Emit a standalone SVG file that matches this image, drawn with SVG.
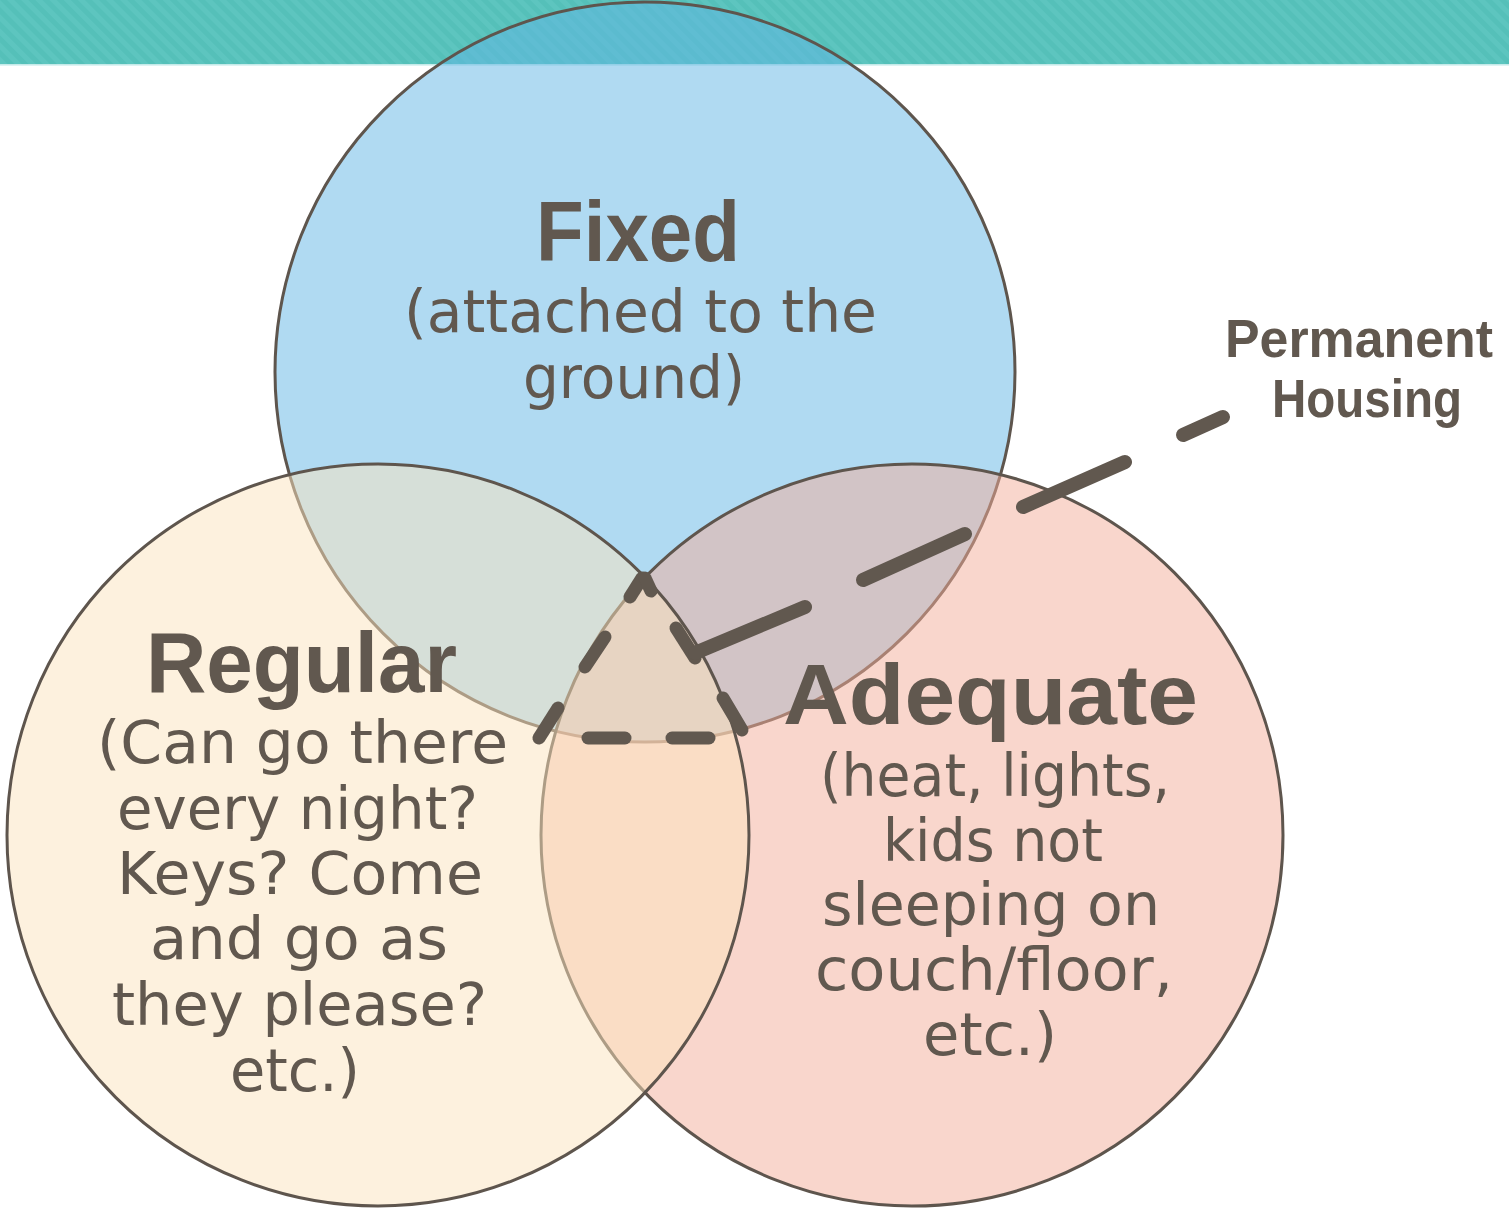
<svg xmlns="http://www.w3.org/2000/svg" width="1509" height="1208" viewBox="0 0 1509 1208">
<defs>
<pattern id="stripes" width="10" height="10" patternUnits="userSpaceOnUse" patternTransform="rotate(-45)">
<rect width="10" height="10" fill="#5DC5BF"/>
<rect width="5" height="10" fill="#55C0B9"/>
</pattern>
<style>
.circ{stroke:#5E554D;stroke-width:3;fill-opacity:0.5}
.title{font-family:"Liberation Sans",Arial,sans-serif;font-weight:bold;fill:#61584F}
.body{font-family:"DejaVu Sans","Liberation Sans",sans-serif;fill:#61584F;font-size:58px}
.dash{stroke:#61584F;stroke-width:13;stroke-linecap:round;fill:none}
.lead{stroke:#61584F;stroke-width:14;stroke-linecap:round;fill:none}
</style>
</defs>
<rect x="0" y="0" width="1509" height="1208" fill="#FFFFFF"/>
<g id="banner">
<rect x="0" y="0" width="1509" height="64.5" fill="url(#stripes)"/>
<rect x="0" y="64.5" width="1509" height="1.5" fill="#DDF3F3"/>
</g>
<g id="fixed">
<circle class="circ" cx="645" cy="372" r="370" fill="#61B5E5"/>
</g>
<g id="adequate">
<circle class="circ" cx="912" cy="835" r="371" fill="#F3AD99"/>
</g>
<g id="regular">
<circle class="circ" cx="378" cy="835" r="371" fill="#FBE3BD"/>
</g>
<g id="fixed-label">
<text class="title" x="536" y="261" font-size="86" textLength="204" lengthAdjust="spacingAndGlyphs">Fixed</text>
<text class="body" x="404" y="332" textLength="473" lengthAdjust="spacingAndGlyphs">(attached to the</text>
<text class="body" x="523" y="398" textLength="222" lengthAdjust="spacingAndGlyphs">ground)</text>
</g>
<g id="regular-label">
<text class="title" x="146" y="692" font-size="86" textLength="311" lengthAdjust="spacingAndGlyphs">Regular</text>
<text class="body" x="97" y="763" textLength="411" lengthAdjust="spacingAndGlyphs">(Can go there</text>
<text class="body" x="117" y="829" textLength="361" lengthAdjust="spacingAndGlyphs">every night?</text>
<text class="body" x="117" y="894" textLength="366" lengthAdjust="spacingAndGlyphs">Keys? Come</text>
<text class="body" x="150" y="959" textLength="298" lengthAdjust="spacingAndGlyphs">and go as</text>
<text class="body" x="112" y="1025" textLength="375" lengthAdjust="spacingAndGlyphs">they please?</text>
<text class="body" x="230" y="1091" textLength="130" lengthAdjust="spacingAndGlyphs">etc.)</text>
</g>
<g id="adequate-label">
<text class="title" x="783" y="724" font-size="86" textLength="415" lengthAdjust="spacingAndGlyphs">Adequate</text>
<text class="body" x="820" y="796" textLength="350" lengthAdjust="spacingAndGlyphs">(heat, lights,</text>
<text class="body" x="883" y="861" textLength="220" lengthAdjust="spacingAndGlyphs">kids not</text>
<text class="body" x="822" y="925" textLength="338" lengthAdjust="spacingAndGlyphs">sleeping on</text>
<text class="body" x="815" y="990" textLength="358" lengthAdjust="spacingAndGlyphs">couch/floor,</text>
<text class="body" x="923" y="1055" textLength="134" lengthAdjust="spacingAndGlyphs">etc.)</text>
</g>
<g id="permanent-housing">
<text class="title" x="1225" y="357" font-size="53" textLength="268" lengthAdjust="spacingAndGlyphs">Permanent</text>
<text class="title" x="1272" y="417" font-size="53" textLength="190" lengthAdjust="spacingAndGlyphs">Housing</text>
</g>
<g id="connectors">
<line class="dash" x1="630" y1="597" x2="642" y2="578"/>
<line class="dash" x1="645" y1="578" x2="651" y2="591"/>
<line class="dash" x1="605" y1="637" x2="585" y2="667"/>
<line class="dash" x1="558" y1="708" x2="539" y2="738"/>
<line class="dash" x1="588" y1="738" x2="625" y2="738"/>
<line class="dash" x1="672" y1="738" x2="709" y2="738"/>
<line class="dash" x1="676" y1="628" x2="695" y2="658"/>
<line class="dash" x1="723" y1="698" x2="742" y2="730"/>
<line class="lead" x1="695" y1="653" x2="805" y2="607"/>
<line class="lead" x1="863" y1="580" x2="965" y2="534"/>
<line class="lead" x1="1023" y1="507" x2="1125" y2="462"/>
<line class="lead" x1="1183" y1="435" x2="1223" y2="417"/>
</g>
</svg>
